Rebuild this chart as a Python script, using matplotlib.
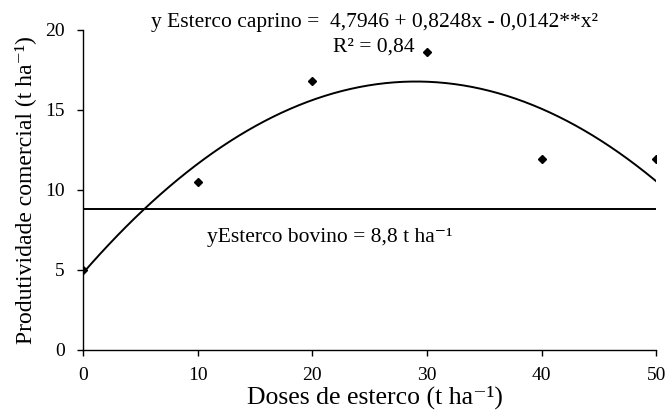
import numpy as np
import matplotlib
matplotlib.use("Agg")
import matplotlib.pyplot as plt

plt.rcParams['font.family'] = ['Liberation Serif', 'DejaVu Serif']

# Data
doses = [0, 10, 20, 30, 40, 50]
caprino = [5.0, 10.5, 16.8, 18.6, 11.9, 11.9]
coef_caprino = [4.7946, 0.8248, -0.0142]   # b0, b1, b2
bovino_mean = 8.8
x_ticks = [0, 10, 20, 30, 40, 50]
y_ticks = [0, 5, 10, 15, 20]

fig = plt.figure(figsize=(6.69, 4.15), dpi=100)
ax = fig.add_axes([0.124, 0.157, 0.857, 0.771])

xs = np.linspace(doses[0], doses[-1], 200)
fit = coef_caprino[0] + coef_caprino[1] * xs + coef_caprino[2] * xs ** 2
ax.plot(xs, fit, color='black', lw=1.4)
ax.plot([doses[0], doses[-1]], [bovino_mean, bovino_mean], color='black', lw=1.4)
ax.plot(doses, caprino, linestyle='none', marker='D', color='black', markersize=4)

ax.set_xlim(0, 50)
ax.set_ylim(0, 20)
ax.set_xticks(x_ticks)
ax.set_yticks(y_ticks)
for s in ['top', 'right']:
    ax.spines[s].set_visible(False)
for s in ['left', 'bottom']:
    ax.spines[s].set_linewidth(1.0)
ax.tick_params(direction='out', length=4, width=1.0, labelsize=14)
ax.tick_params(axis='y', pad=9)
ax.tick_params(axis='x', pad=8)

ax.set_xlabel('Doses de esterco (t ha\u207b\u00b9)', fontsize=18.5)
ax.xaxis.set_label_coords(0.51, -0.112)
ax.set_ylabel('Produtividade comercial (t ha\u207b\u00b9)', fontsize=17)
ax.yaxis.set_label_coords(-0.082, 0.5)

ax.text(25.4, 20.45, 'y Esterco caprino =  4,7946 + 0,8248x - 0,0142**x\u00b2',
        fontsize=15.5, ha='center', va='center', clip_on=False)
ax.text(25.4, 18.9, 'R\u00b2 = 0,84', fontsize=15.5, ha='center', va='center')
ax.text(21.5, 7.0, 'yEsterco bovino = 8,8 t ha\u207b\u00b9', fontsize=15.5, ha='center', va='center')

fig.savefig('out.png', dpi=100)
